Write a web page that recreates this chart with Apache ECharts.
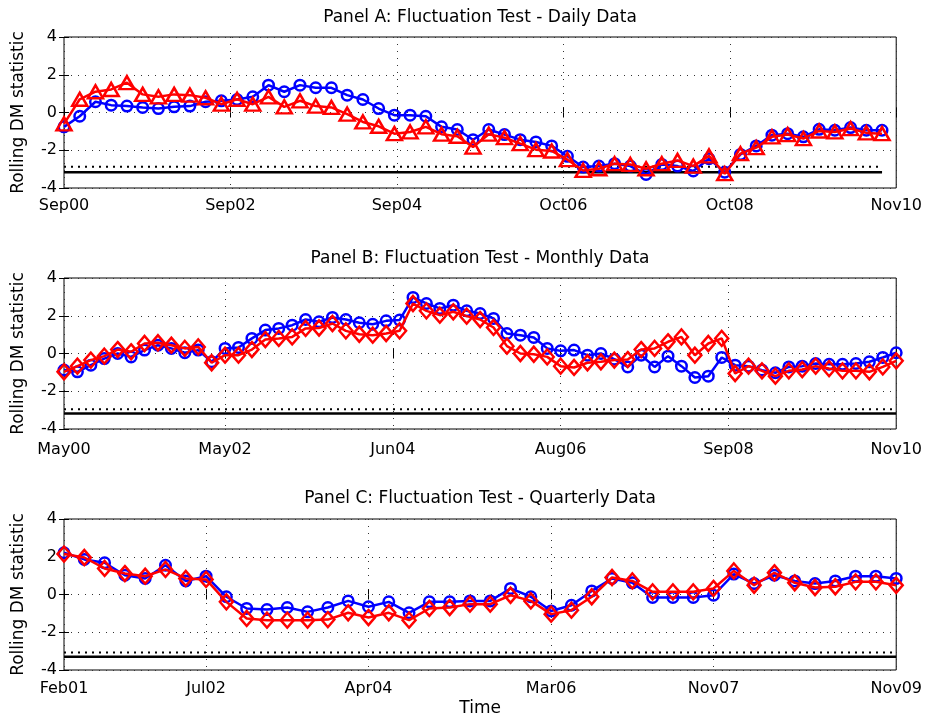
<!DOCTYPE html>
<html>
<head>
<meta charset="utf-8">
<script src="https://cdn.jsdelivr.net/npm/echarts@6/dist/echarts.min.js"></script>
<style>html,body{margin:0;padding:0;background:#fff}#c{width:925px;height:721px}</style>
</head>
<body>
<div id="c"></div>
<script>
// ---------- data ----------
const titles = ['Panel A: Fluctuation Test - Daily Data', 'Panel B: Fluctuation Test - Monthly Data', 'Panel C: Fluctuation Test - Quarterly Data'];
const yTicks = [-4, -2, 0, 2, 4];

const tickPosA = [0, 10.58, 21.16, 31.74, 42.32, 52.9];
const tickLabA = ['Sep00', 'Sep02', 'Sep04', 'Oct06', 'Oct08', 'Nov10'];
const tickPosB = [0, 12, 24.5, 37, 49.5, 62];
const tickLabB = ['May00', 'May02', 'Jun04', 'Aug06', 'Sep08', 'Nov10'];
const tickPosC = [0, 7, 15, 24, 32, 41];
const tickLabC = ['Feb01', 'Jul02', 'Apr04', 'Mar06', 'Nov07', 'Nov09'];

const blueA = [-0.76, -0.2, 0.57, 0.39, 0.34, 0.27, 0.21, 0.3, 0.34, 0.57, 0.62, 0.69, 0.83, 1.45, 1.1, 1.45, 1.31, 1.31, 0.92, 0.69, 0.21, -0.14, -0.14, -0.2, -0.76, -0.9, -1.44, -0.9, -1.17, -1.44, -1.56, -1.77, -2.32, -2.89, -2.84, -2.71, -2.84, -3.28, -2.75, -2.84, -3.1, -2.45, -3.16, -2.22, -1.77, -1.2, -1.12, -1.29, -0.89, -0.94, -0.8, -0.94, -0.94];
const redA = [-0.6, 0.7, 1.1, 1.22, 1.58, 0.96, 0.83, 0.96, 0.92, 0.78, 0.44, 0.7, 0.44, 0.83, 0.3, 0.62, 0.34, 0.27, -0.09, -0.5, -0.73, -1.12, -1.03, -0.76, -1.15, -1.26, -1.83, -1.15, -1.33, -1.65, -1.97, -2.04, -2.5, -3.07, -2.98, -2.71, -2.75, -2.98, -2.71, -2.54, -2.84, -2.3, -3.24, -2.18, -1.86, -1.29, -1.17, -1.38, -0.98, -1.03, -0.85, -1.08, -1.12];

const blueB = [-0.88, -0.97, -0.62, -0.27, 0, -0.18, 0.18, 0.44, 0.27, 0.04, 0.18, -0.44, 0.27, 0.32, 0.8, 1.24, 1.33, 1.5, 1.8,
  1.68, 1.91, 1.8, 1.63, 1.55, 1.73, 1.77, 2.97, 2.65, 2.39, 2.56, 2.26, 2.12, 1.86, 1.06, 0.97, 0.85, 0.27, 0.14, 0.18, -0.09, 0,
  -0.3, -0.71, -0.09, -0.71, -0.14, -0.67, -1.27, -1.2, -0.21, -0.62, -0.67, -0.88, -1.02, -0.71, -0.67, -0.53, -0.57, -0.57, -0.53, -0.44, -0.21, 0.04];
const redB = [-0.97, -0.67, -0.35, -0.14, 0.21, 0.09, 0.53, 0.57, 0.44, 0.27, 0.35, -0.49, -0.09, -0.09, 0.21, 0.74, 0.8, 0.88, 1.33,
  1.35, 1.59, 1.2, 1.02, 0.97, 1.06, 1.2, 2.65, 2.26, 2.03, 2.21, 1.98, 1.8, 1.38, 0.39, 0, -0.04, -0.18, -0.67, -0.74, -0.49, -0.44,
  -0.35, -0.32, 0.21, 0.27, 0.62, 0.88, -0.09, 0.53, 0.8, -1.06, -0.67, -0.92, -1.2, -0.92, -0.85, -0.67, -0.8, -0.92, -0.92, -0.97, -0.71, -0.39];

const blueC = [2.21, 1.86, 1.68, 1.02, 0.85, 1.55, 0.72, 0.97, -0.12, -0.74, -0.8, -0.69, -0.92,
  -0.69, -0.34, -0.65, -0.39, -0.97, -0.39, -0.39, -0.34, -0.34, 0.32, -0.12, -0.87, -0.57, 0.19,
  0.85, 0.62, -0.16, -0.16, -0.16, -0.04, 1.08, 0.58, 1.02, 0.72, 0.58, 0.72, 0.97, 0.97, 0.85];
const redC = [2.14, 1.96, 1.38, 1.11, 0.97, 1.33, 0.85, 0.8, -0.39, -1.27, -1.36, -1.36, -1.36,
  -1.33, -0.97, -1.22, -0.97, -1.36, -0.74, -0.69, -0.51, -0.51, -0.04, -0.34, -1.04, -0.83, -0.12,
  0.9, 0.72, 0.14, 0.14, 0.14, 0.32, 1.25, 0.49, 1.15, 0.62, 0.37, 0.41, 0.67, 0.67, 0.49];

const critDotted = [-2.88, -2.96, -3.07];
const critSolid = [-3.16, -3.18, -3.3];

// ---------- chart ----------
const FONT = 'DejaVu Sans';
const panels = [
  {pos: tickPosA, lab: tickLabA, blue: blueA, red: redA, redSym: 'triangle', redSize: [15, 13], top: 37, labMargin: 10},
  {pos: tickPosB, lab: tickLabB, blue: blueB, red: redB, redSym: 'diamond', redSize: [13, 15], top: 278, labMargin: 13},
  {pos: tickPosC, lab: tickLabC, blue: blueC, red: redC, redSym: 'diamond', redSize: [13, 15], top: 519, labMargin: 11}
];
const gridH = 151;
const titleY = [18, 259, 499];

const grid = [], xAxis = [], yAxis = [], series = [], graphic = [];
panels.forEach((p, k) => {
  grid.push({left: 64, width: 832.5, top: p.top, height: gridH, show: true, borderColor: '#000', borderWidth: 1, backgroundColor: '#fff', containLabel: false});
  const xmax = p.pos[p.pos.length - 1];
  xAxis.push({
    type: 'value', gridIndex: k, min: 0, max: xmax, position: 'bottom',
    axisLine: {show: false},
    axisTick: {show: true, inside: true, length: 5, customValues: p.pos, lineStyle: {color: '#000', width: 1}},
    axisLabel: {show: true, customValues: p.pos, margin: p.labMargin, color: '#000', fontFamily: FONT, fontSize: 16, hideOverlap: false,
      formatter: function (v) { const i = p.pos.findIndex(t => Math.abs(t - v) < 1e-6); return i >= 0 ? p.lab[i] : ''; }},
    splitLine: {show: true, lineStyle: {color: '#333', width: 1, type: [1, 6]}},
    name: k === 2 ? 'Time' : '', nameLocation: 'middle', nameGap: 30,
    nameTextStyle: {color: '#000', fontFamily: FONT, fontSize: 17}
  });
  xAxis.push({
    type: 'value', gridIndex: k, min: 0, max: xmax, position: 'top',
    axisLine: {show: false},
    axisTick: {show: true, inside: true, length: 5, customValues: p.pos, lineStyle: {color: '#000', width: 1}},
    axisLabel: {show: false}, splitLine: {show: false}
  });
  yAxis.push({
    type: 'value', gridIndex: k, min: -4, max: 4, interval: 2, position: 'left',
    axisLine: {show: false},
    axisTick: {show: true, inside: true, length: 5, lineStyle: {color: '#000', width: 1}},
    axisLabel: {show: true, margin: 7, color: '#000', fontFamily: FONT, fontSize: 16},
    splitLine: {show: true, lineStyle: {color: '#333', width: 1, type: [1, 6]}},
    name: 'Rolling DM statistic', nameLocation: 'middle', nameGap: 37, nameRotate: 90,
    nameTextStyle: {color: '#000', fontFamily: FONT, fontSize: 17}
  });
  yAxis.push({
    type: 'value', gridIndex: k, min: -4, max: 4, interval: 2, position: 'right',
    axisLine: {show: false},
    axisTick: {show: true, inside: true, length: 5, lineStyle: {color: '#000', width: 1}},
    axisLabel: {show: false}, splitLine: {show: false}
  });
  const n = p.blue.length;
  series.push({
    type: 'line', xAxisIndex: 2 * k, yAxisIndex: 2 * k, silent: true, symbol: 'none', z: 2,
    data: [[0, critDotted[k]], [n - 1, critDotted[k]]],
    lineStyle: {color: '#000', width: 2, type: [2, 5]}
  });
  series.push({
    type: 'line', xAxisIndex: 2 * k, yAxisIndex: 2 * k, silent: true, symbol: 'none', z: 2,
    data: [[0, critSolid[k]], [n - 1, critSolid[k]]],
    lineStyle: {color: '#000', width: 2.5, type: 'solid'}
  });
  series.push({
    type: 'line', xAxisIndex: 2 * k, yAxisIndex: 2 * k, silent: true, z: 3,
    data: p.blue.map((v, i) => [i, v]),
    symbol: 'circle', symbolSize: 10.5,
    itemStyle: {color: 'rgba(0,0,0,0)', borderColor: '#0000ff', borderWidth: 2.5},
    lineStyle: {color: '#0000ff', width: 2.5}
  });
  series.push({
    type: 'line', xAxisIndex: 2 * k, yAxisIndex: 2 * k, silent: true, z: 4,
    data: p.red.map((v, i) => [i, v]),
    symbol: p.redSym, symbolSize: p.redSize,
    itemStyle: {color: 'rgba(0,0,0,0)', borderColor: '#ff0000', borderWidth: 2.5},
    lineStyle: {color: '#ff0000', width: 2.5}
  });
  graphic.push({type: 'text', x: 480, y: titleY[k], style: {text: titles[k], fill: '#000', font: '17px "DejaVu Sans"', textAlign: 'center', textVerticalAlign: 'middle'}});
});

const chart = echarts.init(document.getElementById('c'), null, {renderer: 'canvas'});
chart.setOption({animation: false, backgroundColor: '#fff', grid, xAxis, yAxis, series, graphic});
</script>
</body>
</html>
